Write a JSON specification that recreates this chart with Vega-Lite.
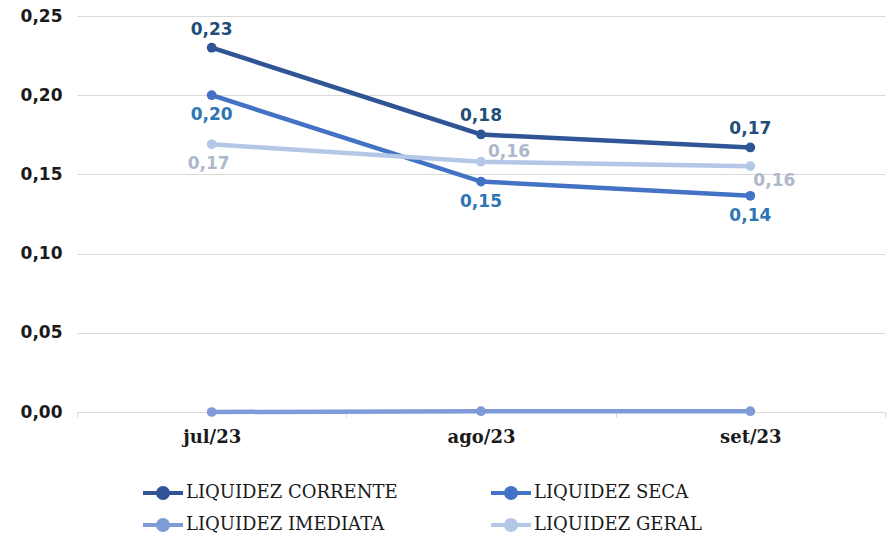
{
  "$schema": "https://vega.github.io/schema/vega-lite/v6.json",
  "width": 808,
  "height": 396,
  "autosize": "none",
  "padding": {"left": 77, "top": 16, "right": 6, "bottom": 122},
  "background": "white",
  "config": {
    "locale": {"number": {"decimal": ",", "thousands": ".", "grouping": [3], "currency": ["R$", ""]}},
    "view": {"stroke": null}
  },
  "data": {
    "values": [
      {"mes": "jul/23", "serie": "LIQUIDEZ CORRENTE", "valor": 0.230},
      {"mes": "ago/23", "serie": "LIQUIDEZ CORRENTE", "valor": 0.1752},
      {"mes": "set/23", "serie": "LIQUIDEZ CORRENTE", "valor": 0.167},
      {"mes": "jul/23", "serie": "LIQUIDEZ SECA", "valor": 0.200},
      {"mes": "ago/23", "serie": "LIQUIDEZ SECA", "valor": 0.1455},
      {"mes": "set/23", "serie": "LIQUIDEZ SECA", "valor": 0.1365},
      {"mes": "jul/23", "serie": "LIQUIDEZ IMEDIATA", "valor": 0.000},
      {"mes": "ago/23", "serie": "LIQUIDEZ IMEDIATA", "valor": 0.0005},
      {"mes": "set/23", "serie": "LIQUIDEZ IMEDIATA", "valor": 0.0005},
      {"mes": "jul/23", "serie": "LIQUIDEZ GERAL", "valor": 0.169},
      {"mes": "ago/23", "serie": "LIQUIDEZ GERAL", "valor": 0.158},
      {"mes": "set/23", "serie": "LIQUIDEZ GERAL", "valor": 0.1552}
    ]
  },
  "encoding": {
    "x": {
      "field": "mes", "type": "nominal", "sort": ["jul/23", "ago/23", "set/23"],
      "scale": {"type": "band", "paddingInner": 0, "paddingOuter": 0},
      "axis": {
        "title": null, "labelAngle": 0, "grid": false,
        "domain": true, "domainColor": "#D9D9D9", "domainWidth": 1,
        "ticks": true, "tickBand": "extent", "tickColor": "#D9D9D9", "tickSize": 5,
        "labelFont": "DejaVu Serif", "labelFontWeight": "bold", "labelFontSize": 18,
        "labelColor": "#1a1a1a", "labelPadding": 11
      }
    },
    "y": {
      "field": "valor", "type": "quantitative",
      "scale": {"domain": [0, 0.25], "nice": false},
      "axis": {
        "title": null, "values": [0, 0.05, 0.1, 0.15, 0.2, 0.25], "format": ".2f",
        "domain": false, "ticks": false, "grid": true, "gridColor": "#D9D9D9",
        "labelFont": "DejaVu Sans", "labelFontWeight": "bold", "labelFontSize": 17,
        "labelColor": "#1a1a1a", "labelPadding": 15
      }
    }
  },
  "layer": [
    {
      "mark": {"type": "line", "strokeWidth": 4.5, "point": {"filled": true, "size": 95}},
      "encoding": {
        "color": {
          "field": "serie", "type": "nominal",
          "sort": ["LIQUIDEZ CORRENTE", "LIQUIDEZ SECA", "LIQUIDEZ IMEDIATA", "LIQUIDEZ GERAL"],
          "scale": {
            "domain": ["LIQUIDEZ CORRENTE", "LIQUIDEZ SECA", "LIQUIDEZ IMEDIATA", "LIQUIDEZ GERAL"],
            "range": ["#2F5597", "#4472C4", "#7F9BD7", "#B4C7E7"]
          },
          "legend": {
            "title": null, "orient": "none", "legendX": 57, "legendY": 468,
            "direction": "horizontal", "columns": 2, "columnPadding": 84, "rowPadding": 6,
            "symbolType": "M-4,0L4,0M-1,0A1,1 0 1,1 1,0A1,1 0 1,1 -1,0Z",
            "symbolSize": 100, "symbolStrokeWidth": 4, "symbolOffset": 20,
            "labelOffset": 14, "labelFont": "DejaVu Serif", "labelFontSize": 18,
            "labelColor": "#1a1a1a", "labelLimit": 400,
            "encode": {
              "symbols": {"update": {"fill": {"scale": "color", "field": "value"}, "stroke": {"scale": "color", "field": "value"}, "opacity": {"value": 1}}}
            }
          }
        }
      }
    },
    {
      "transform": [{"filter": "datum.serie === 'LIQUIDEZ CORRENTE'"}],
      "mark": {"type": "text", "dy": -18, "font": "DejaVu Sans", "fontWeight": "bold", "fontSize": 17, "color": "#1F4E79"},
      "encoding": {"text": {"field": "valor", "format": ".2f"}}
    },
    {
      "transform": [{"filter": "datum.serie === 'LIQUIDEZ SECA'"}],
      "mark": {"type": "text", "dy": 20, "font": "DejaVu Sans", "fontWeight": "bold", "fontSize": 17, "color": "#2E75B6"},
      "encoding": {"text": {"field": "valor", "format": ".2f"}}
    },
    {
      "transform": [{"filter": "datum.serie === 'LIQUIDEZ GERAL' && datum.mes === 'jul/23'"}],
      "mark": {"type": "text", "dy": 20, "dx": -3, "font": "DejaVu Sans", "fontWeight": "bold", "fontSize": 17, "color": "#ADB9CA"},
      "encoding": {"text": {"field": "valor", "format": ".2f"}}
    },
    {
      "transform": [{"filter": "datum.serie === 'LIQUIDEZ GERAL' && datum.mes === 'ago/23'"}],
      "mark": {"type": "text", "dy": -10, "dx": 28, "font": "DejaVu Sans", "fontWeight": "bold", "fontSize": 17, "color": "#ADB9CA"},
      "encoding": {"text": {"field": "valor", "format": ".2f"}}
    },
    {
      "transform": [{"filter": "datum.serie === 'LIQUIDEZ GERAL' && datum.mes === 'set/23'"}],
      "mark": {"type": "text", "dy": 15, "dx": 24, "font": "DejaVu Sans", "fontWeight": "bold", "fontSize": 17, "color": "#ADB9CA"},
      "encoding": {"text": {"field": "valor", "format": ".2f"}}
    }
  ]
}
